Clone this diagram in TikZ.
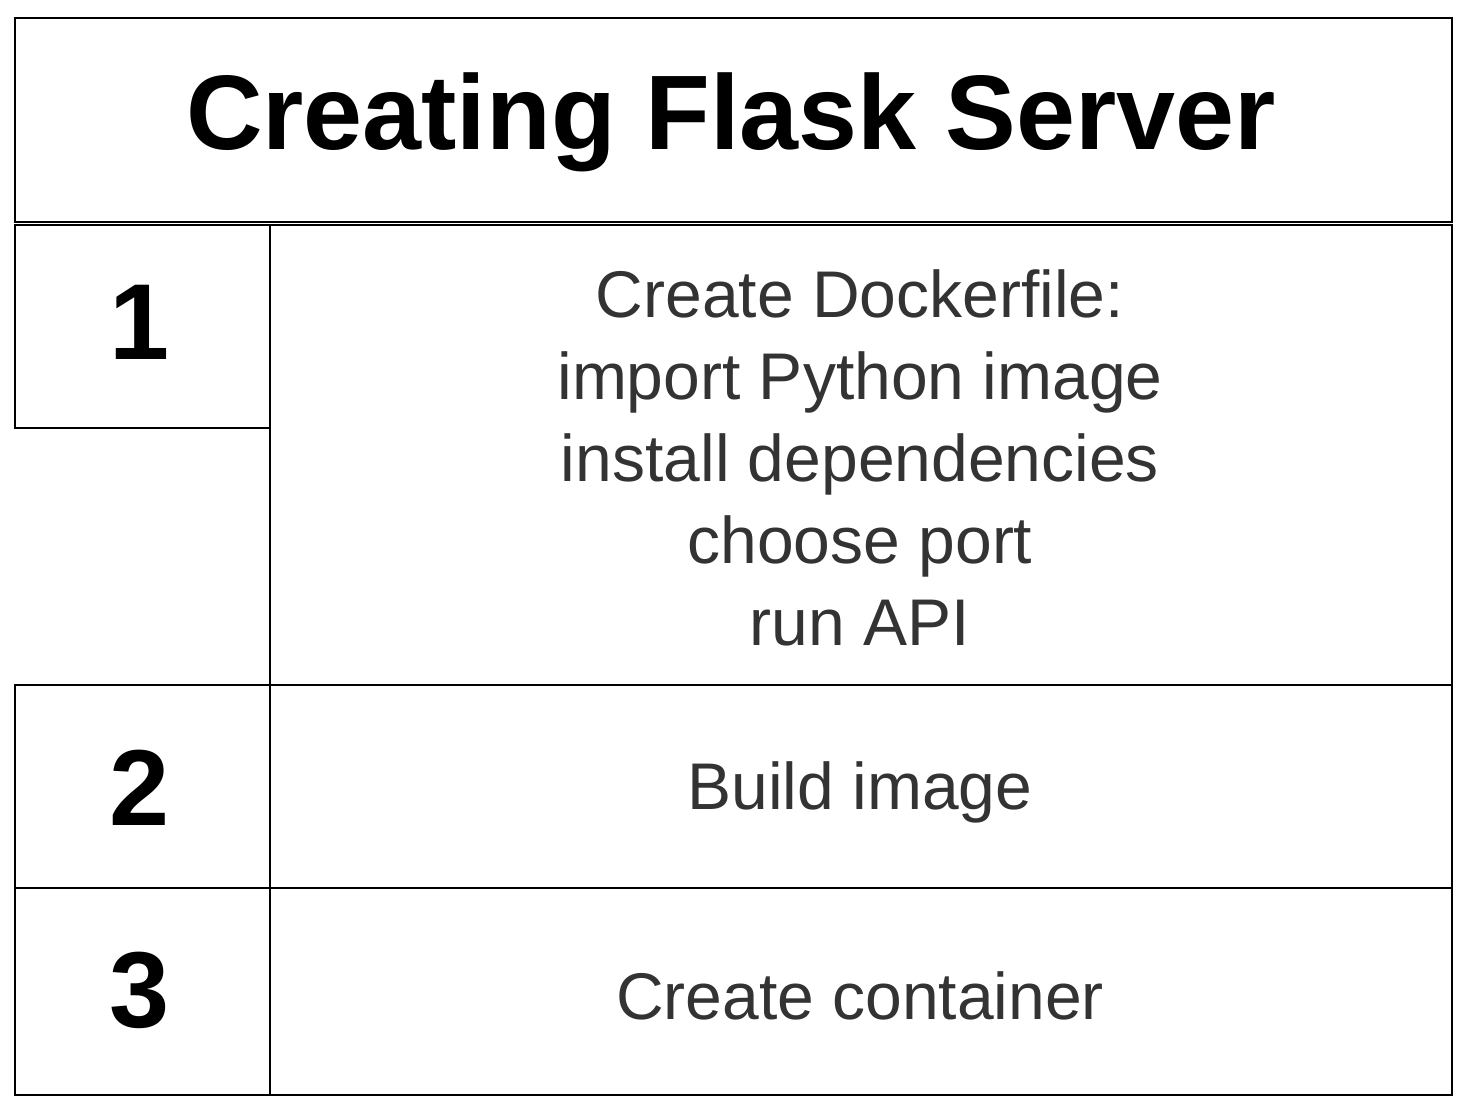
\documentclass[tikz,border=0pt]{standalone}
\usepackage{fontspec}
\setmainfont{Liberation Sans}
\usetikzlibrary{positioning}

\begin{document}
\begin{tikzpicture}[x={(0.5pt,0)},y={(0,-0.5pt)},line width=1.4pt,
  cell/.style={draw,line width=1.4pt},
  num/.style={font=\fontsize{54}{60}\selectfont\bfseries},
  task/.style={font=\fontsize{33}{41}\selectfont,text=black!80,align=center}]
  \useasboundingbox (0,0) rectangle (1468,1111);
  % table frame
  \draw[cell] (15,18) rectangle (1452,222);
  \draw[cell] (15,225) rectangle (270,428);
  \draw[cell] (270,225) rectangle (1452,685);
  \draw[cell] (15,685) rectangle (270,888);
  \draw[cell] (270,685) rectangle (1452,888);
  \draw[cell] (15,888) rectangle (270,1095);
  \draw[cell] (270,888) rectangle (1452,1095);
  % title
  \node[font=\fontsize{53}{60}\selectfont\bfseries] (title) at (731,122) {Creating Flask Server};
  % steps
  \node[num] (n1) at (140,322) {1};
  \node[num] (n2) at (140,788) {2};
  \node[num] (n3) at (140,990) {3};
  \node[task] (s1) at (860,458) {Create Dockerfile:\\import Python image\\install dependencies\\choose port\\run API};
  \node[task] (s2) at (860,792) {Build image};
  \node[task] (s3) at (860,996) {Create container};
\end{tikzpicture}
\end{document}
